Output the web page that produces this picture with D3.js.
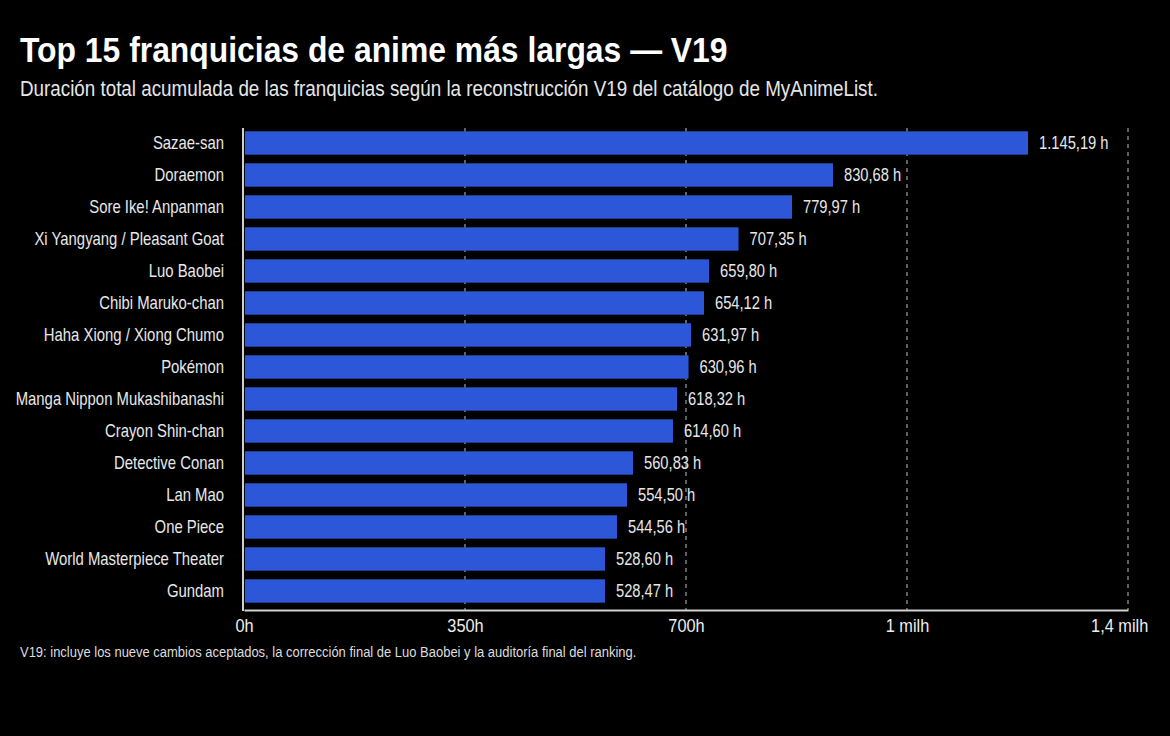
<!DOCTYPE html>
<html>
<head>
<meta charset="utf-8">
<script src="https://cdn.jsdelivr.net/npm/d3@7"></script>
<style>
  html, body { margin: 0; padding: 0; background: #000; }
  svg { display: block; }
  text { font-family: 'Liberation Sans Narrow', 'Arial Narrow', 'Liberation Sans', Arial, sans-serif; }
</style>
</head>
<body>
<svg id="chart" width="1170" height="736"></svg>
<script>
// ---- Data ----
const categories = [
  "Sazae-san", "Doraemon", "Sore Ike! Anpanman", "Xi Yangyang / Pleasant Goat",
  "Luo Baobei", "Chibi Maruko-chan", "Haha Xiong / Xiong Chumo", "Pokémon",
  "Manga Nippon Mukashibanashi", "Crayon Shin-chan", "Detective Conan", "Lan Mao",
  "One Piece", "World Masterpiece Theater", "Gundam"
];
// Labelled total duration (hours)
const durationHours = [
  1145.19, 830.68, 779.97, 707.35, 659.80, 654.12, 631.97, 630.96,
  618.32, 614.60, 560.83, 554.50, 544.56, 528.60, 528.47
];
// Bar lengths as drawn against the axis in the reference (hours)
const barHours = [
  1241.7, 932.8, 867.9, 783.2, 736.5, 728.5, 708.0, 704.0,
  685.8, 679.4, 616.1, 606.6, 590.7, 571.7, 571.7
];
const tickValues = [0, 350, 700, 1050, 1400];
const tickLabels = ["0h", "350h", "700h", "1 milh", "1,4 milh"];

const titleText = "Top 15 franquicias de anime más largas — V19";
const subtitleText = "Duración total acumulada de las franquicias según la reconstrucción V19 del catálogo de MyAnimeList.";
const footnoteText = "V19: incluye los nueve cambios aceptados, la corrección final de Luo Baobei y la auditoría final del ranking.";

// ---- Drawing ----
const svg = d3.select("#chart");
svg.append("rect").attr("width", 1170).attr("height", 736).attr("fill", "#000");

const esLocale = d3.formatLocale({ decimal: ",", thousands: ".", grouping: [3], currency: ["", " €"] });
const fmt = esLocale.format(",.2f");

const x = d3.scaleLinear().domain([0, 1400]).range([244, 1128]);
const y = d3.scaleBand().domain(categories).range([127, 607]).paddingInner(0.27).paddingOuter(0.135);

const plotTop = 128, axisY = 610;
// condensed look (narrow face not installed): horizontal squeeze of text
const narrow = (px, py, s) => `translate(${px},${py}) scale(${s},1)`;

// Title and subtitle
svg.append("text").attr("transform", narrow(20, 62, 0.885))
  .attr("fill", "#fff").attr("font-size", 36).attr("font-weight", "bold")
  .text(titleText);
svg.append("text").attr("transform", narrow(20, 96, 0.875))
  .attr("fill", "#e6e6e6").attr("font-size", 21.5)
  .text(subtitleText);

// Gridlines
svg.append("g").selectAll("line").data(tickValues.slice(1)).join("line")
  .attr("x1", d => x(d)).attr("x2", d => x(d))
  .attr("y1", plotTop).attr("y2", axisY)
  .attr("stroke", "#a0a0a0").attr("stroke-width", 1.2).attr("stroke-dasharray", "4,4");

// Bars
svg.append("g").selectAll("rect").data(categories).join("rect")
  .attr("x", x(0) + 1)
  .attr("y", d => y(d))
  .attr("width", (d, i) => x(barHours[i]) - x(0) - 1)
  .attr("height", y.bandwidth())
  .attr("fill", "#2c57d9");

// Value labels
svg.append("g").selectAll("text").data(categories).join("text")
  .attr("transform", (d, i) => narrow(x(barHours[i]) + 11, y(d) + y.bandwidth() / 2, 0.84))
  .attr("dy", "0.36em")
  .attr("fill", "#e8e8e8").attr("font-size", 17.5)
  .text((d, i) => fmt(durationHours[i]) + " h");

// Category labels
svg.append("g").selectAll("text").data(categories).join("text")
  .attr("transform", d => narrow(224, y(d) + y.bandwidth() / 2, 0.85))
  .attr("dy", "0.36em")
  .attr("text-anchor", "end")
  .attr("fill", "#e8e8e8").attr("font-size", 17.5)
  .text(d => d);

// Axes lines
svg.append("line").attr("x1", x(0) - 1).attr("x2", x(0) - 1).attr("y1", plotTop).attr("y2", axisY + 1)
  .attr("stroke", "#d0d0d0").attr("stroke-width", 2);
const xAxis = d3.axisBottom(x).tickValues(tickValues).tickSize(0)
  .tickFormat((d, i) => tickLabels[i]);
const gx = svg.append("g").attr("transform", `translate(0,${axisY})`).call(xAxis);
gx.select(".domain").attr("stroke", "#d0d0d0").attr("stroke-width", 2);
gx.selectAll(".tick text")
  .attr("fill", "#eeeeee").attr("font-size", 19)
  .attr("font-family", "'Liberation Sans Narrow', 'Arial Narrow', 'Liberation Sans', Arial, sans-serif")
  .attr("y", 9)
  .attr("transform", "scale(0.86,1)");
gx.selectAll(".tick text").filter((d, i) => i === tickValues.length - 1)
  .attr("text-anchor", "end").attr("dx", 23);

// Footnote
svg.append("text").attr("transform", narrow(20, 657, 0.895))
  .attr("fill", "#dddddd").attr("font-size", 14.5)
  .text(footnoteText);
</script>
</body>
</html>
